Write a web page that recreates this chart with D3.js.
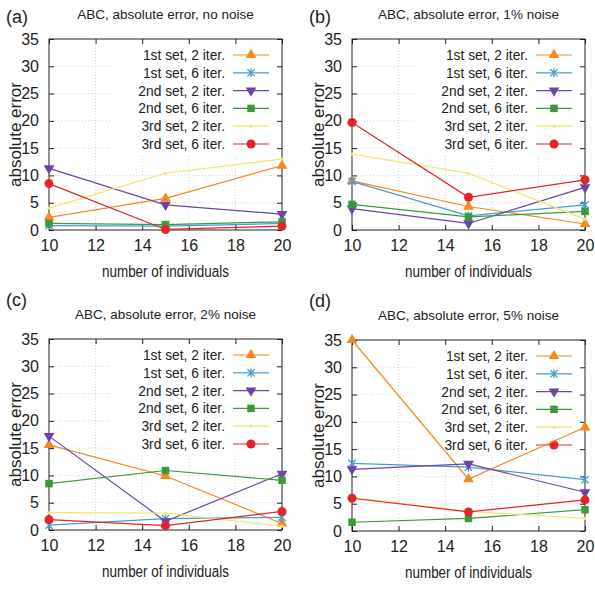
<!DOCTYPE html>
<html>
<head>
<meta charset="utf-8">
<script src="https://cdn.jsdelivr.net/npm/d3@7"></script>
<style>
body { margin: 0; background: #fff; }
text { font-family: "Liberation Sans", Arial, sans-serif; fill: #222; }
</style>
</head>
<body>
<div id="chart"></div>
<script>
// x positions (number of individuals)
var xValues = [10, 15, 20];
var xTicks = [10, 12, 14, 16, 18, 20];
var yTicks = [0, 5, 10, 15, 20, 25, 30, 35];

var seriesNames = ["1st set, 2 iter.", "1st set, 6 iter.", "2nd set, 2 iter.",
	"2nd set, 6 iter.", "3rd set, 2 iter.", "3rd set, 6 iter."];
var seriesColors = ["#f7881f", "#4a9bd0", "#6d44a6", "#3a9a3a", "#f2e46e", "#e0262a"];
var seriesMarkers = ["triUp", "star", "triDown", "square", "dot", "circle"];

var panelLabels = ["(a)", "(b)", "(c)", "(d)"];
var panelTitles = ["ABC, absolute error, no noise", "ABC, absolute error, 1% noise",
	"ABC, absolute error, 2% noise", "ABC, absolute error, 5% noise"];

// one row per series, values at 10, 15, 20
var noNoise = [
	[2.3, 5.8, 11.8],
	[0.8, 0.7, 1.2],
	[11.3, 4.6, 2.9],
	[1.2, 1.0, 1.5],
	[4.0, 10.4, 13.0],
	[8.5, 0.1, 0.7]
];
var noise1 = [
	[9.0, 4.3, 1.1],
	[8.9, 2.6, 4.6],
	[3.9, 1.2, 7.8],
	[4.7, 2.4, 3.4],
	[13.9, 10.4, 2.0],
	[19.7, 6.0, 9.2]
];
var noise2 = [
	[15.6, 9.9, 1.2],
	[0.9, 2.1, 2.3],
	[17.2, 1.6, 10.3],
	[8.5, 10.9, 9.1],
	[3.2, 3.1, 0.7],
	[1.9, 0.8, 3.4]
];
var noise5 = [
	[35.0, 9.5, 19.0],
	[12.4, 11.7, 9.4],
	[11.3, 12.3, 7.1],
	[1.6, 2.3, 3.9],
	[6.1, 3.6, 2.3],
	[6.0, 3.5, 5.7]
];
var panelData = [noNoise, noise1, noise2, noise5];

var W = 595, H = 590;
var layout = [
	{ox: 0, oy: 0, labelY: 23},
	{ox: 303, oy: 0, labelY: 23},
	{ox: 0, oy: 300, labelY: 6},
	{ox: 303, oy: 301, labelY: 6}
];
var plotW = 233, plotH = 191, marginLeft = 49, marginTop = 39;

var svg = d3.select("#chart").append("svg")
	.attr("width", W)
	.attr("height", H)
	.style("background", "#fff");

var symbolTypes = {
	triUp: d3.symbolTriangle,
	square: d3.symbolSquare,
	circle: d3.symbolCircle
};

function drawMarker(g, type, x, y, color) {
	if (type == "star") {
		var s = 3.6;
		var p = "M" + (x - s) + "," + (y - s) + "L" + (x + s) + "," + (y + s)
			+ "M" + (x - s) + "," + (y + s) + "L" + (x + s) + "," + (y - s)
			+ "M" + x + "," + (y - s * 1.2) + "L" + x + "," + (y + s * 1.2);
		g.append("path").attr("d", p).attr("stroke", color).attr("stroke-width", 1.3).attr("fill", "none");
	} else if (type == "dot") {
		g.append("circle").attr("cx", x).attr("cy", y).attr("r", 1.6).attr("fill", color);
	} else if (type == "triDown") {
		g.append("path")
			.attr("d", d3.symbol().type(d3.symbolTriangle).size(50)())
			.attr("transform", "translate(" + x + "," + y + ") rotate(180)")
			.attr("fill", color);
	} else {
		var size = type == "circle" ? 64 : (type == "square" ? 56 : 50);
		g.append("path")
			.attr("d", d3.symbol().type(symbolTypes[type]).size(size)())
			.attr("transform", "translate(" + x + "," + y + ")")
			.attr("fill", color);
	}
}

panelData.forEach(function(data, pi) {
	var lay = layout[pi];
	var left = lay.ox + marginLeft, top = lay.oy + marginTop;
	var g = svg.append("g").attr("class", "panel").attr("transform", "translate(" + left + "," + top + ")");

	var x = d3.scaleLinear().domain([10, 20]).range([0, plotW]);
	var y = d3.scaleLinear().domain([0, 35]).range([plotH, 0]);

	// grid
	g.selectAll(".gx").data(xTicks.slice(1, -1)).enter().append("line")
		.attr("x1", function(d) { return x(d); }).attr("x2", function(d) { return x(d); })
		.attr("y1", 0).attr("y2", plotH)
		.attr("stroke", "#c8c8c8").attr("stroke-width", 0.8).attr("stroke-dasharray", "1,2");
	g.selectAll(".gy").data(yTicks.slice(1, -1)).enter().append("line")
		.attr("x1", 0).attr("x2", plotW)
		.attr("y1", function(d) { return y(d); }).attr("y2", function(d) { return y(d); })
		.attr("stroke", "#c8c8c8").attr("stroke-width", 0.8).attr("stroke-dasharray", "1,2");

	// opaque key box
	g.append("rect")
		.attr("x", 62).attr("y", 7)
		.attr("width", plotW - 63).attr("height", 108)
		.attr("fill", "#fff");

	// axes with inward ticks on all sides
	var xAxisB = d3.axisBottom(x).tickValues(xTicks).tickSize(-5).tickPadding(10).tickFormat(d3.format("d"));
	var xAxisT = d3.axisTop(x).tickValues(xTicks).tickSize(-5).tickFormat("");
	var yAxisL = d3.axisLeft(y).tickValues(yTicks).tickSize(-5).tickPadding(10).tickFormat(d3.format("d"));
	var yAxisR = d3.axisRight(y).tickValues(yTicks).tickSize(-5).tickFormat("");

	[
		[xAxisB, "translate(0," + plotH + ")"],
		[xAxisT, "translate(0,0)"],
		[yAxisL, "translate(0,0)"],
		[yAxisR, "translate(" + plotW + ",0)"]
	].forEach(function(a) {
		var ax = g.append("g").attr("transform", a[1]).call(a[0]);
		ax.select(".domain").remove();
		ax.selectAll("line").attr("stroke", "#222");
		ax.selectAll("text").style("font-size", "16px").attr("fill", "#222")
			.style("font-family", "Liberation Sans, Arial, sans-serif");
	});

	g.append("rect")
		.attr("x", 0).attr("y", 0).attr("width", plotW).attr("height", plotH)
		.attr("fill", "none").attr("stroke", "#222").attr("stroke-width", 1);

	// key
	var rowY = function(i) { return 16 + i * 17.8; };
	seriesNames.forEach(function(name, i) {
		g.append("text")
			.attr("x", plotW - 57)
			.attr("y", rowY(i) + 5)
			.attr("text-anchor", "end")
			.style("font-size", "13.8px")
			.text(name);
		g.append("line")
			.attr("x1", plotW - 49).attr("x2", plotW - 13)
			.attr("y1", rowY(i)).attr("y2", rowY(i))
			.attr("stroke", seriesColors[i]).attr("stroke-width", 1.2);
		drawMarker(g, seriesMarkers[i], plotW - 31, rowY(i), seriesColors[i]);
	});

	// series
	var line = d3.line()
		.x(function(d, i) { return x(xValues[i]); })
		.y(function(d) { return y(d); });
	data.forEach(function(vals, si) {
		g.append("path")
			.attr("d", line(vals))
			.attr("fill", "none")
			.attr("stroke", seriesColors[si])
			.attr("stroke-width", 1.2);
		vals.forEach(function(v, k) {
			drawMarker(g, seriesMarkers[si], x(xValues[k]), y(v), seriesColors[si]);
		});
	});

	// titles
	svg.append("text")
		.attr("x", left + plotW / 2).attr("y", top - 20)
		.attr("text-anchor", "middle")
		.style("font-size", "13.5px")
		.text(panelTitles[pi]);
	svg.append("text")
		.attr("x", lay.ox + 6).attr("y", lay.oy + lay.labelY)
		.style("font-size", "18px")
		.text(panelLabels[pi]);
	svg.append("text")
		.attr("x", left + plotW / 2).attr("y", top + plotH + 47)
		.attr("text-anchor", "middle")
		.attr("textLength", 127)
		.attr("lengthAdjust", "spacingAndGlyphs")
		.style("font-size", "16px")
		.text("number of individuals");
	svg.append("text")
		.attr("transform", "translate(" + (lay.ox + 21) + "," + (top + plotH / 2) + ") rotate(-90)")
		.attr("text-anchor", "middle")
		.style("font-size", "17px")
		.text("absolute error");
});
</script>
</body>
</html>
